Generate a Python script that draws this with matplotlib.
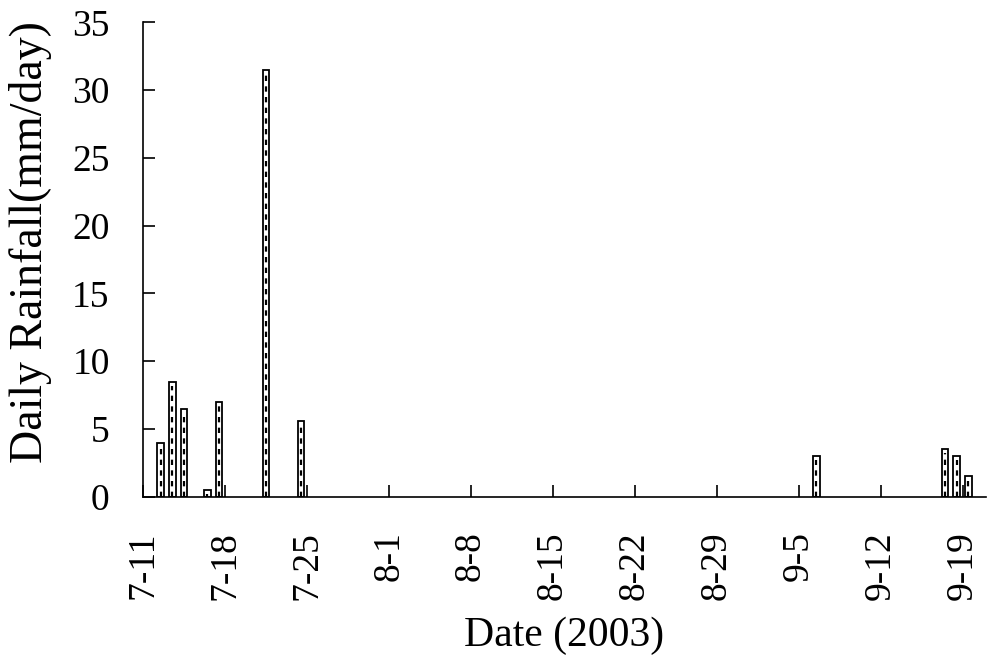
import datetime as dt
import numpy as np
import matplotlib
matplotlib.use('Agg')
import matplotlib.pyplot as plt

# daily rainfall readings, summer 2003 (only the rainy days)
rain_dates = ['7-12', '7-13', '7-14', '7-16', '7-17', '7-21', '7-24',
              '9-6', '9-17', '9-18', '9-19']
rain_mm = [4.0, 8.5, 6.5, 0.5, 7.0, 31.5, 5.6, 3.0, 3.5, 3.0, 1.5]
tick_dates = ['7-11', '7-18', '7-25', '8-1', '8-8', '8-15', '8-22',
              '8-29', '9-5', '9-12', '9-19']
y_ticks = [0, 5, 10, 15, 20, 25, 30, 35]

start = dt.date(2003, 7, 11)


def day_no(s):
    m, d = s.split('-')
    return (dt.date(2003, int(m), int(d)) - start).days


x_bar = np.array([day_no(s) for s in rain_dates]) + 0.5
x_tick = [day_no(s) for s in tick_dates]

plt.rcParams['font.family'] = ['Liberation Serif', 'DejaVu Serif']

fig = plt.figure(figsize=(10, 6.69), dpi=100)
ax = fig.add_axes([0.143, 0.2575, 0.843, 0.709])

ax.bar(x_bar, rain_mm, width=0.57, color='white', edgecolor='black',
       linewidth=1.3, zorder=2)
# the dotted fill inside each bar
ax.vlines(x_bar, 0, np.array(rain_mm) - 0.3, colors='black',
          linewidth=1.6, linestyles=(0, (2.4, 2.4)), zorder=3)

ax.set_xlim(0, 72)
ax.set_ylim(0, 35)
ax.set_xticks(x_tick)
ax.set_xticklabels(tick_dates, rotation=90)
ax.set_yticks(y_ticks)

for side in ['top', 'right']:
    ax.spines[side].set_visible(False)
for side in ['left', 'bottom']:
    ax.spines[side].set_linewidth(1.2)

ax.tick_params(axis='both', direction='in', length=8.5, width=1.2,
               labelsize=27)
ax.tick_params(axis='x', pad=25)
ax.tick_params(axis='y', pad=24)

ax.set_xlabel('Date (2003)', fontsize=30, labelpad=12)
ax.set_ylabel('Daily Rainfall(mm/day)', fontsize=33)
# label sits a little above the axis middle in the original
ax.yaxis.set_label_coords(-0.108, 0.537)

fig.savefig('out.png', dpi=100)
